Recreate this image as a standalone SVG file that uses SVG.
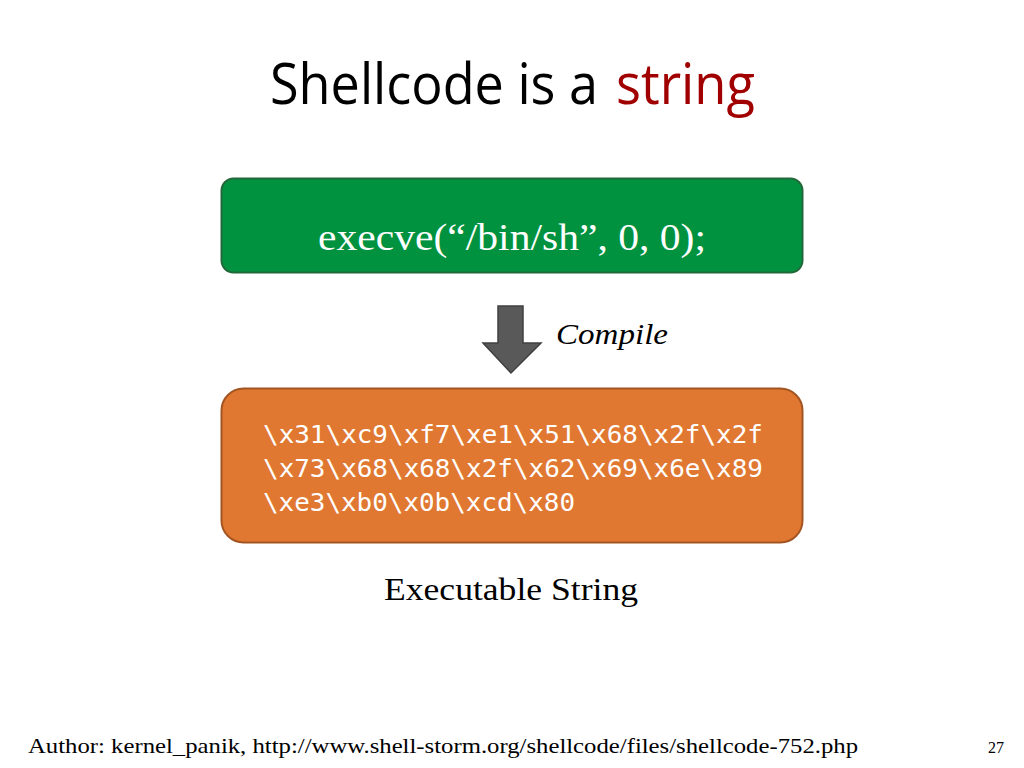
<svg xmlns="http://www.w3.org/2000/svg" width="1024" height="768" viewBox="0 0 1024 768">
<defs>
<style>
.title{font-family:"Open Sans","Noto Sans","Liberation Sans",sans-serif;font-size:56px;fill:#000}
.serif{font-family:"Liberation Serif","DejaVu Serif",serif}
.mono{font-family:"DejaVu Sans Mono","Liberation Mono",monospace;font-size:25px;fill:#fff}
</style>
</defs>
<rect width="1024" height="768" fill="#fff"/>
<g id="title">
<text class="title" x="270" y="104" textLength="328" lengthAdjust="spacingAndGlyphs">Shellcode is a</text>
<text class="title" x="616" y="104" fill="#a00000" style="fill:#a00000" textLength="139" lengthAdjust="spacingAndGlyphs">string</text>
</g>
<g id="source">
<rect x="221.5" y="178.5" width="581" height="94" rx="12" fill="#00923f" stroke="#22683a" stroke-width="2"/>
<text class="serif" x="512" y="250" text-anchor="middle" font-size="37" fill="#fff" textLength="388" lengthAdjust="spacingAndGlyphs">execve(“/bin/sh”, 0, 0);</text>
</g>
<g id="connectors">
<polygon points="498,306 523,306 523,343 541,343 511,373 483,343 498,343" fill="#595959" stroke="#404040" stroke-width="1.5" stroke-linejoin="miter"/>
<text class="serif" x="556" y="344" font-size="30" font-style="italic" fill="#000" textLength="112" lengthAdjust="spacingAndGlyphs">Compile</text>
</g>
<g id="shellcode">
<rect x="221.5" y="388.5" width="581" height="154" rx="22" fill="#e07832" stroke="#a35521" stroke-width="2"/>
<text class="mono" x="263" y="443" textLength="500" lengthAdjust="spacingAndGlyphs">\x31\xc9\xf7\xe1\x51\x68\x2f\x2f</text>
<text class="mono" x="263" y="477" textLength="500" lengthAdjust="spacingAndGlyphs">\x73\x68\x68\x2f\x62\x69\x6e\x89</text>
<text class="mono" x="263" y="511" textLength="312" lengthAdjust="spacingAndGlyphs">\xe3\xb0\x0b\xcd\x80</text>
</g>
<g id="caption">
<text class="serif" x="511" y="600" text-anchor="middle" font-size="32" fill="#000" textLength="254" lengthAdjust="spacingAndGlyphs">Executable String</text>
</g>
<g id="footer">
<text class="serif" x="28" y="753" font-size="22" fill="#000" textLength="830" lengthAdjust="spacingAndGlyphs">Author: kernel_panik, http://www.shell-storm.org/shellcode/files/shellcode-752.php</text>
<text class="serif" x="1004" y="753" text-anchor="end" font-size="16" fill="#000">27</text>
</g>
</svg>
